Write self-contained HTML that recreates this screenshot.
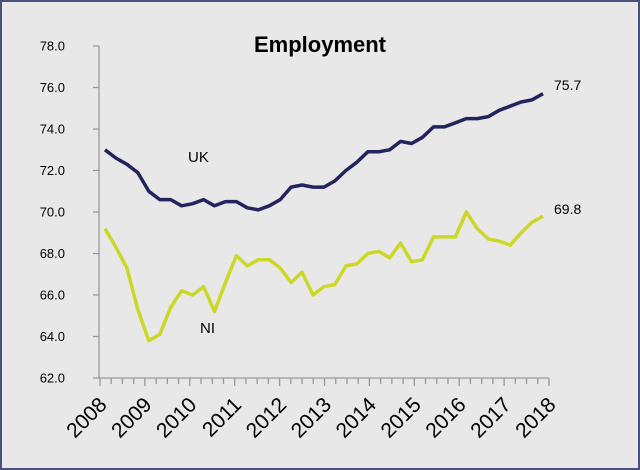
<!DOCTYPE html>
<html><head><meta charset="utf-8"><style>
html,body{margin:0;padding:0;background:#e8e8e8;}
svg{display:block;font-family:"Liberation Sans",Arial,sans-serif;}
</style></head><body>
<svg width="640" height="470" viewBox="0 0 640 470" xmlns="http://www.w3.org/2000/svg">
<rect x="1" y="1" width="638" height="468" fill="#e8e8e8" stroke="#4a5080" stroke-width="2"/>
<text x="320" y="52" text-anchor="middle" font-size="22" font-weight="bold">Employment</text>
<g id="ax" stroke="#999" stroke-width="1.3" fill="none"></g>
<g id="lab" font-size="13" fill="#000"></g>
<polyline id="uk" fill="none" stroke="#23245e" stroke-width="3.5" stroke-linejoin="round"/>
<polyline id="ni" fill="none" stroke="#ccd827" stroke-width="3.5" stroke-linejoin="round"/>
<text x="188" y="162" font-size="15">UK</text>
<text x="200" y="333" font-size="15">NI</text>
<text x="554" y="90" font-size="14">75.7</text>
<text x="554" y="214" font-size="14">69.8</text>
</svg>
<script>
var ns="http://www.w3.org/2000/svg";
function Y(v){return 46+(78-v)*(332/16);}
var ax=document.getElementById('ax'),lab=document.getElementById('lab');
function el(p,t,a,txt){var e=document.createElementNS(ns,t);for(var k in a)e.setAttribute(k,a[k]);if(txt)e.textContent=txt;p.appendChild(e);return e;}
el(ax,'line',{x1:99,y1:46,x2:99,y2:378});
el(ax,'line',{x1:99,y1:378,x2:549,y2:378});
for(var v=62;v<=78;v+=2){var y=Y(v);el(ax,'line',{x1:93,y1:y,x2:99,y2:y});el(lab,'text',{x:65,y:y+4.5,'text-anchor':'end'},v.toFixed(1));}
for(var i=0;i<=40;i++){var x=100+i*449/40;el(ax,'line',{x1:x,y1:378,x2:x,y2:i%4==0?386:384});}
for(var j=0;j<=10;j++){var x=100+j*44.9;var ax2=x+8,ay=406;el(lab,'text',{x:ax2,y:ay,'text-anchor':'end','font-size':'21',transform:'rotate(-45 '+ax2+' '+ay+')'},String(2008+j));}
var uk=[73.0,72.6,72.3,71.9,71.0,70.6,70.6,70.3,70.4,70.6,70.3,70.5,70.5,70.2,70.1,70.3,70.6,71.2,71.3,71.2,71.2,71.5,72.0,72.4,72.9,72.9,73.0,73.4,73.3,73.6,74.1,74.1,74.3,74.5,74.5,74.6,74.9,75.1,75.3,75.4,75.7];
var ni=[69.2,68.3,67.3,65.3,63.8,64.1,65.4,66.2,66.0,66.4,65.2,66.6,67.9,67.4,67.7,67.7,67.3,66.6,67.1,66.0,66.4,66.5,67.4,67.5,68.0,68.1,67.8,68.5,67.6,67.7,68.8,68.8,68.8,70.0,69.2,68.7,68.6,68.4,69.0,69.5,69.8];
function pts(a){return a.map(function(v,i){return (105+i*10.95).toFixed(1)+','+Y(v).toFixed(1);}).join(' ');}
document.getElementById('uk').setAttribute('points',pts(uk));
document.getElementById('ni').setAttribute('points',pts(ni));
</script>
</body></html>
